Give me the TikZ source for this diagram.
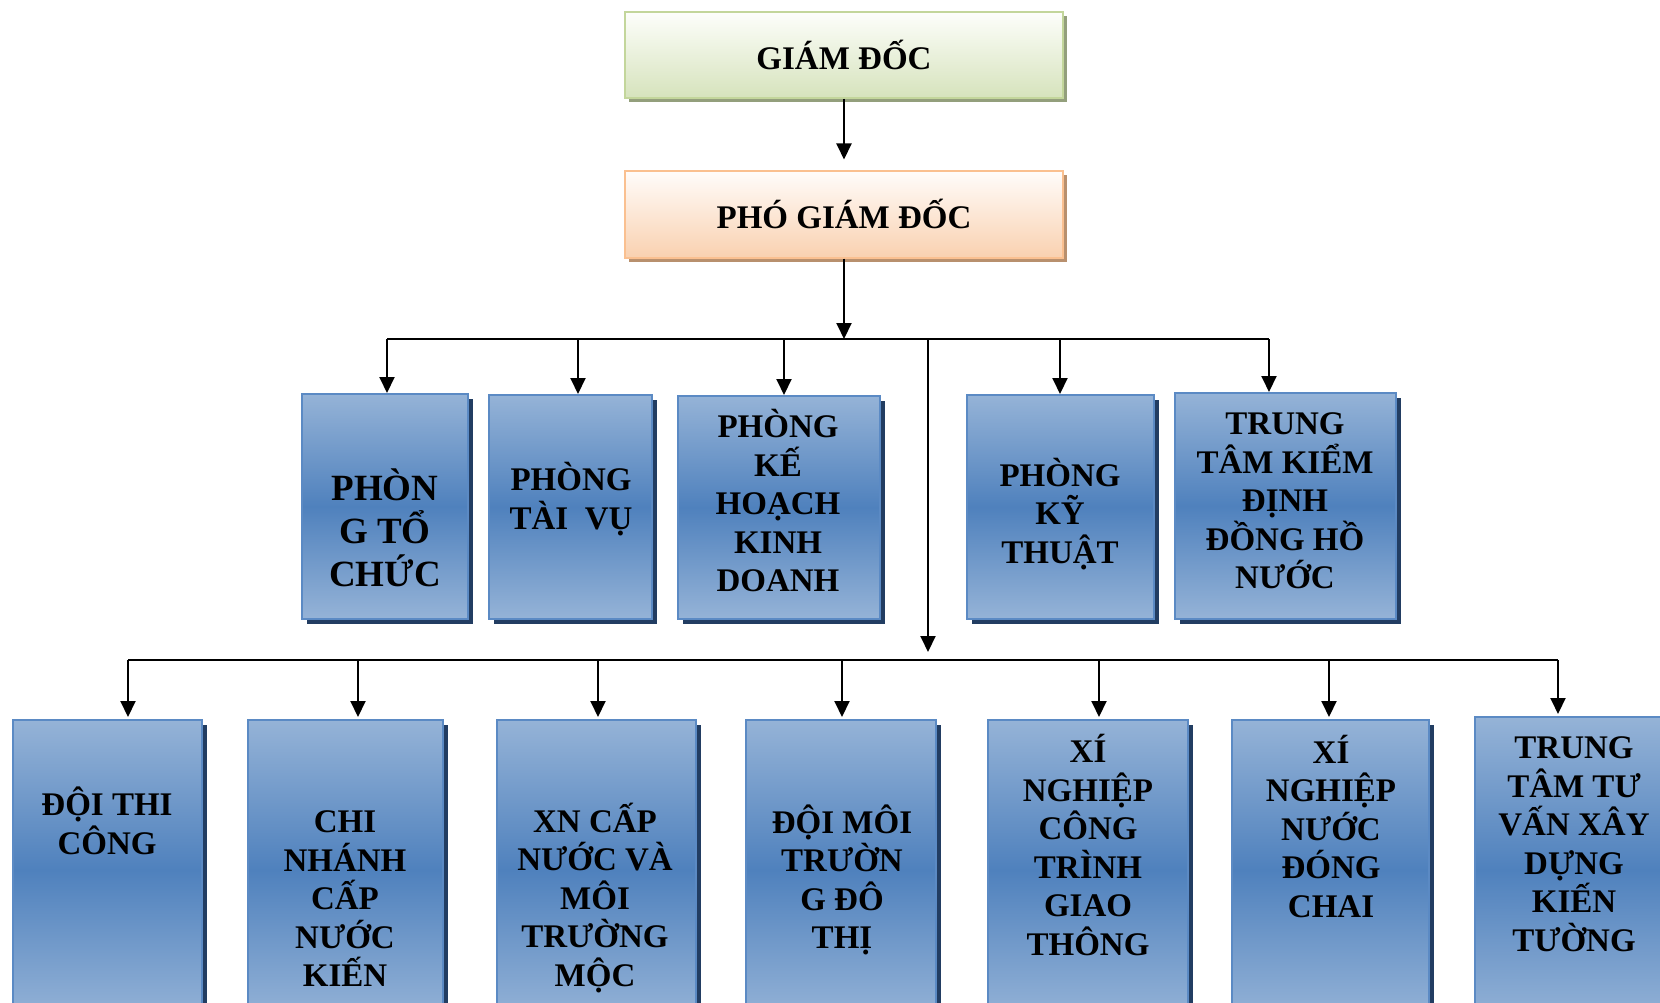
\documentclass[tikz,border=0pt]{standalone}
\usepackage{fontspec}
\setmainfont{Liberation Serif}
\usetikzlibrary{arrows.meta,shadows}

\definecolor{gdline}{HTML}{C3D69B}
\definecolor{gdtop}{HTML}{FDFEFB}
\definecolor{gdbot}{HTML}{D6E3BC}
\definecolor{gdshadow}{HTML}{939F7C}
\definecolor{pgdline}{HTML}{FAC090}
\definecolor{pgdtop}{HTML}{FFFCFA}
\definecolor{pgdbot}{HTML}{F9D1B0}
\definecolor{pgdshadow}{HTML}{B8906E}
\definecolor{unitlight}{HTML}{95B3D7}
\definecolor{unitdark}{HTML}{4F81BD}
\definecolor{unitline}{HTML}{5B8AC4}
\definecolor{unitshadow}{HTML}{223D62}

\tikzset{
  head/.style={line width=2pt, minimum width=438pt, minimum height=86pt},
  unit/.style={draw=unitline, line width=2pt, top color=unitlight, bottom color=unitlight, middle color=unitdark,
    drop shadow={shadow xshift=5pt, shadow yshift=-5pt, fill=unitshadow, opacity=1}},
  lbl/.style={font=\bfseries\fontsize{33}{38.5}\selectfont, align=center, inner sep=0pt},
  arr/.style={line width=2pt, -{Triangle[length=16pt,width=15pt]}},
  bus/.style={line width=2pt}
}

\begin{document}
\begin{tikzpicture}[x=1pt,y=-1pt]
  \useasboundingbox (0,0) rectangle (1660,1003);
  \clip (0,0) rectangle (1660,1003);
  \fill[white] (0,0) rectangle (1660,1003);

  % top of the chart
  \node[head, draw=gdline, top color=gdtop, bottom color=gdbot,
    drop shadow={shadow xshift=4pt, shadow yshift=-4pt, fill=gdshadow, opacity=1}] (gd) at (844,55) {};
  \node[lbl] (gdtxt) at (844,55) {GIÁM ĐỐC};
  \node[head, draw=pgdline, top color=pgdtop, bottom color=pgdbot,
    drop shadow={shadow xshift=4pt, shadow yshift=-4pt, fill=pgdshadow, opacity=1}] (pgd) at (844,214.5) {};
  \node[lbl] (pgdtxt) at (844,214) {PHÓ GIÁM ĐỐC};

  % departments
  \node[unit, minimum width=166pt, minimum height=225pt] (r1a) at (385,506.5) {};
  \node[unit, minimum width=163pt, minimum height=224pt] (r1b) at (570.5,507) {};
  \node[unit, minimum width=202pt, minimum height=223pt] (r1c) at (779,507.5) {};
  \node[unit, minimum width=187pt, minimum height=224pt] (r1d) at (1060.5,507) {};
  \node[unit, minimum width=221pt, minimum height=226pt] (r1e) at (1285.5,506) {};

  \node[lbl, font=\bfseries\fontsize{37}{43}\selectfont] (l1a) at (385,528) {PHÒN\\G TỔ\\CHỨC};
  \node[lbl] (l1b) at (571,499) {PHÒNG\\TÀI\ \ VỤ};
  \node[lbl] (l1c) at (778,501) {PHÒNG\\KẾ\\HOẠCH\\KINH\\DOANH};
  \node[lbl] (l1d) at (1060,514) {PHÒNG\\KỸ\\THUẬT};
  \node[lbl] (l1e) at (1285,501) {TRUNG\\TÂM KIỂM\\ĐỊNH\\ĐỒNG HỒ\\NƯỚC};

  % units
  \node[unit, minimum width=189pt, minimum height=300pt] (r2a) at (107.5,870) {};
  \node[unit, minimum width=195pt, minimum height=300pt] (r2b) at (345.5,870) {};
  \node[unit, minimum width=199pt, minimum height=300pt] (r2c) at (596.5,870) {};
  \node[unit, minimum width=190pt, minimum height=300pt] (r2d) at (841,870) {};
  \node[unit, minimum width=200pt, minimum height=300pt] (r2e) at (1088,870) {};
  \node[unit, minimum width=197pt, minimum height=300pt] (r2f) at (1330.5,870) {};
  \node[unit, minimum width=198pt, minimum height=306pt] (r2g) at (1574,870) {};

  \node[lbl] (l2a) at (107,821) {ĐỘI THI\\CÔNG};
  \node[lbl] (l2b) at (345,899) {CHI\\NHÁNH\\CẤP\\NƯỚC\\KIẾN};
  \node[lbl] (l2c) at (595,898) {XN CẤP\\NƯỚC VÀ\\MÔI\\TRƯỜNG\\MỘC};
  \node[lbl] (l2d) at (842,880) {ĐỘI MÔI\\TRƯỜN\\G ĐÔ\\THỊ};
  \node[lbl] (l2e) at (1088,845) {XÍ\\NGHIỆP\\CÔNG\\TRÌNH\\GIAO\\THÔNG};
  \node[lbl] (l2f) at (1331,826) {XÍ\\NGHIỆP\\NƯỚC\\ĐÓNG\\CHAI};
  \node[lbl] (l2g) at (1574,844) {TRUNG\\TÂM TƯ\\VẤN XÂY\\DỰNG\\KIẾN\\TƯỜNG};

  % bus lines
  \coordinate (b1w) at (387,339);
  \coordinate (b1e) at (1269,339);
  \coordinate (d1b) at (578,339);
  \coordinate (d1c) at (784,339);
  \coordinate (d1d) at (1060,339);
  \coordinate (trunk) at (928,339);
  \coordinate (b2w) at (128,660);
  \coordinate (b2e) at (1558,660);
  \coordinate (d2b) at (358,660);
  \coordinate (d2c) at (598,660);
  \coordinate (d2d) at (842,660);
  \coordinate (d2e) at (1099,660);
  \coordinate (d2f) at (1329,660);

  \draw[arr, shorten >=11pt] (gd) -- (pgd);
  \draw[arr] (pgd) -- (pgd.south |- b1w);
  \draw[bus] (b1w) -- (b1e);
  \draw[arr] (b1w) -- (b1w |- r1a.north);
  \draw[arr] (d1b) -- (d1b |- r1b.north);
  \draw[arr] (d1c) -- (d1c |- r1c.north);
  \draw[arr] (d1d) -- (d1d |- r1d.north);
  \draw[arr] (b1e) -- (b1e |- r1e.north);

  \draw[arr, shorten >=8pt] (trunk) -- (trunk |- b2w);
  \draw[bus] (b2w) -- (b2e);
  \draw[arr, shorten >=2pt] (b2w) -- (b2w |- r2a.north);
  \draw[arr, shorten >=2pt] (d2b) -- (d2b |- r2b.north);
  \draw[arr, shorten >=2pt] (d2c) -- (d2c |- r2c.north);
  \draw[arr, shorten >=2pt] (d2d) -- (d2d |- r2d.north);
  \draw[arr, shorten >=2pt] (d2e) -- (d2e |- r2e.north);
  \draw[arr, shorten >=2pt] (d2f) -- (d2f |- r2f.north);
  \draw[arr, shorten >=2pt] (b2e) -- (b2e |- r2g.north);
\end{tikzpicture}
\end{document}
